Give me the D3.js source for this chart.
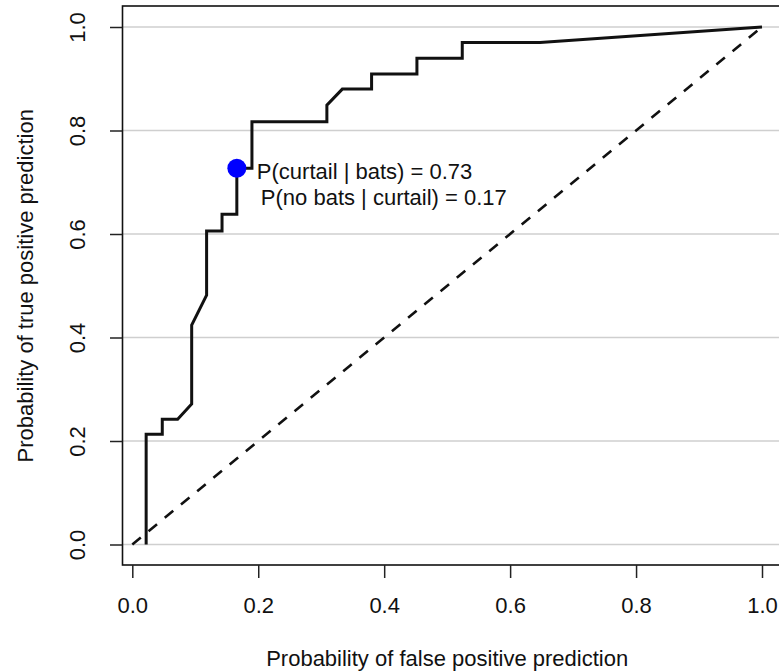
<!DOCTYPE html>
<html>
<head>
<meta charset="utf-8">
<script src="https://cdn.jsdelivr.net/npm/d3@7"></script>
<style>
    body { margin: 0; background: #fff; }
    svg { display: block; font-family: "Liberation Sans", Arial, sans-serif; }
    .axis text { font-size: 22px; fill: #111; }
    .axis line { stroke: #222; stroke-width: 1.5; }
    .axis-title { font-size: 22px; fill: #111; }
    .note { font-size: 22px; fill: #111; }
</style>
</head>
<body>
<div id="chart"></div>
<script>
// ROC curve points
const fpr = [0.022, 0.022, 0.0476, 0.0476, 0.072, 0.0943, 0.0943, 0.118, 0.118, 0.1425, 0.1425, 0.166, 0.166, 0.19, 0.19, 0.309, 0.309, 0.3335, 0.38, 0.38, 0.452, 0.452, 0.524, 0.524, 0.6475, 1.0];
const tpr = [0, 0.213, 0.213, 0.242, 0.242, 0.2715, 0.424, 0.482, 0.606, 0.606, 0.638, 0.638, 0.727, 0.727, 0.817, 0.817, 0.849, 0.88, 0.88, 0.909, 0.909, 0.9395, 0.9395, 0.97, 0.97, 1.0];

// chosen threshold
const cutFpr = 0.166;
const cutTpr = 0.727;
const noteLines = ['P(curtail | bats) = 0.73', 'P(no bats | curtail) = 0.17'];

const xTicks = [0, 0.2, 0.4, 0.6, 0.8, 1.0];
const yTicks = [0, 0.2, 0.4, 0.6, 0.8, 1.0];

const width = 779, height = 672;
// plot box (right side runs past the picture edge)
const box = {left: 122.5, top: 6, right: 790, bottom: 565};

const svg = d3.select('#chart').append('svg')
    .attr('width', width)
    .attr('height', height);

const x = d3.scaleLinear()
    .domain([0, 1])
    .range([132.3, 762]);

const y = d3.scaleLinear()
    .domain([0, 1])
    .range([544.5, 27]);

// horizontal gridlines
svg.append('g').selectAll('line')
    .data(yTicks)
    .join('line')
    .attr('x1', box.left)
    .attr('x2', width)
    .attr('y1', d => y(d))
    .attr('y2', d => y(d))
    .attr('stroke', '#cfcfcf')
    .attr('stroke-width', 1.6);

// chance diagonal
svg.append('line')
    .attr('x1', x(0)).attr('y1', y(0))
    .attr('x2', x(1)).attr('y2', y(1))
    .attr('stroke', '#111')
    .attr('stroke-width', 2.6)
    .attr('stroke-dasharray', '11,10');

// ROC curve
const line = d3.line()
    .x(d => x(d[0]))
    .y(d => y(d[1]));

svg.append('path')
    .datum(fpr.map((f, i) => [f, tpr[i]]))
    .attr('d', line)
    .attr('fill', 'none')
    .attr('stroke', '#111')
    .attr('stroke-width', 3)
    .attr('stroke-linejoin', 'miter');

// chosen point
svg.append('circle')
    .attr('cx', x(cutFpr))
    .attr('cy', y(cutTpr))
    .attr('r', 9.5)
    .attr('fill', '#0000ff');

svg.selectAll('.note')
    .data(noteLines)
    .join('text')
    .attr('class', 'note')
    .attr('x', (d, i) => x(cutFpr) + 20 + i * 4)
    .attr('y', (d, i) => y(cutTpr) + 11 + i * 26)
    .text(d => d);

// box
svg.append('rect')
    .attr('x', box.left)
    .attr('y', box.top)
    .attr('width', box.right - box.left)
    .attr('height', box.bottom - box.top)
    .attr('fill', 'none')
    .attr('stroke', '#111')
    .attr('stroke-width', 1.6);

// axes
const xAxisG = svg.append('g')
    .attr('class', 'axis')
    .attr('transform', `translate(0,${box.bottom})`)
    .call(d3.axisBottom(x).tickValues(xTicks).tickSize(13).tickFormat(d3.format('.1f')));
xAxisG.select('.domain').remove();
xAxisG.selectAll('text').attr('y', 48).attr('dy', 0);

const yAxisG = svg.append('g')
    .attr('class', 'axis')
    .attr('transform', `translate(${box.left},0)`)
    .call(d3.axisLeft(y).tickValues(yTicks).tickSize(12.5).tickFormat(d3.format('.1f')));
yAxisG.select('.domain').remove();
yAxisG.selectAll('text')
    .attr('transform', 'rotate(-90)')
    .attr('x', 0)
    .attr('y', -37.5)
    .attr('dy', 0)
    .attr('text-anchor', 'middle');

// axis titles
svg.append('text')
    .attr('class', 'axis-title')
    .attr('x', (x(0) + x(1)) / 2)
    .attr('y', 666)
    .attr('text-anchor', 'middle')
    .text('Probability of false positive prediction');

svg.append('text')
    .attr('class', 'axis-title')
    .attr('transform', `translate(33,${(y(0) + y(1)) / 2}) rotate(-90)`)
    .attr('text-anchor', 'middle')
    .text('Probability of true positive prediction');
</script>
</body>
</html>
